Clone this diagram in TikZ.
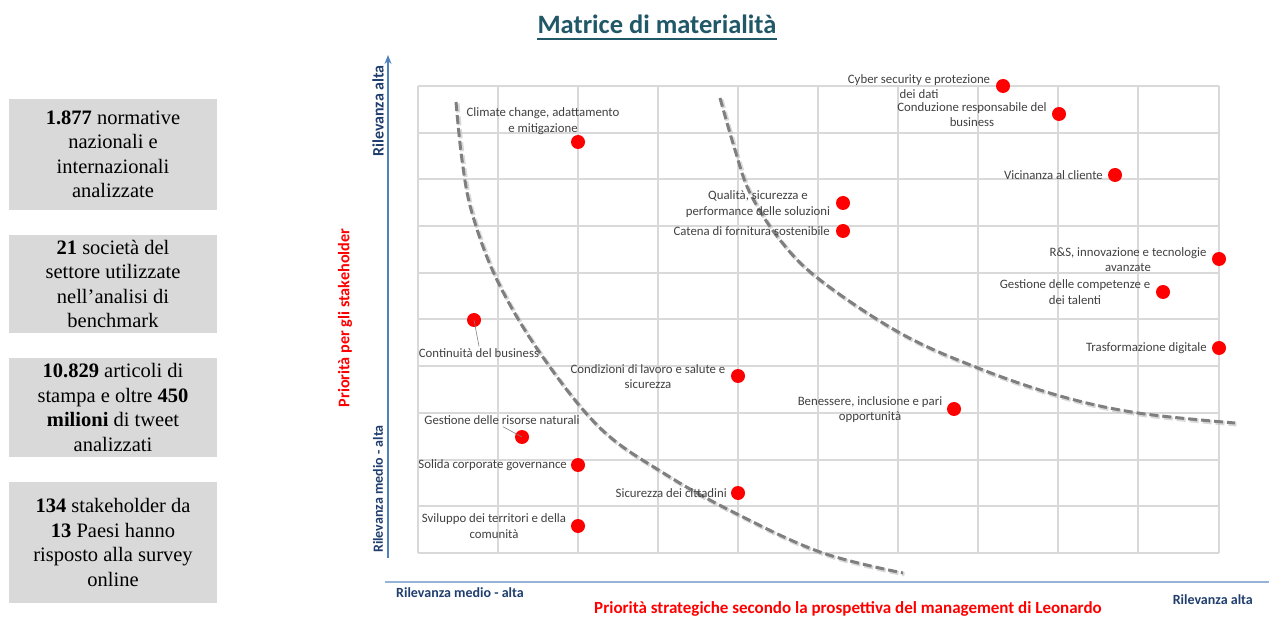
\documentclass[tikz,border=0pt]{standalone}
\usepackage{fontspec}
\setmainfont{Carlito}
\newfontfamily\tnr{Liberation Serif}
\usetikzlibrary{arrows.meta}
\definecolor{gridc}{HTML}{D9D9D9}
\definecolor{boxc}{HTML}{D9D9D9}
\definecolor{labc}{HTML}{404040}
\definecolor{titlec}{HTML}{215868}
\definecolor{axisc}{HTML}{4F81BD}
\definecolor{axisx}{HTML}{95B3D7}
\definecolor{bluelab}{HTML}{1F3E6E}
\definecolor{curvec}{HTML}{7F7F7F}
\tikzset{
  gridline/.style={gridc, line width=1.2pt},
  lab/.style={font=\fontsize{12.8}{15.5}\selectfont, text=labc, align=center, inner sep=0pt},
  dot/.style={circle, fill=red, minimum size=14pt, inner sep=0pt},
  statbox/.style={fill=boxc, minimum width=208pt, align=center,
    font=\tnr\fontsize{20.5}{24.5}\selectfont, inner sep=0pt},
  axlab/.style={font=\fontsize{14}{16}\selectfont\bfseries, text=bluelab, inner sep=0pt},
  redlab/.style={font=\fontsize{16.5}{18}\selectfont\bfseries, text=red, inner sep=0pt},
  leader/.style={gray, line width=0.6pt},
  curve/.style={curvec, line width=3pt, dash pattern=on 9pt off 4pt},
  curveshadow/.style={black!25, line width=4pt, dash pattern=on 9pt off 4pt, opacity=0.6}
}
\begin{document}
\begin{tikzpicture}[x=1pt,y=-1pt]
\useasboundingbox (0,0) rectangle (1269,617);

% title
\node[font=\fontsize{26.5}{30}\selectfont\bfseries, text=titlec, inner sep=0pt, anchor=base] (title) at (657,34) {Matrice di materialità};
\draw[titlec, line width=2.6pt] ([yshift=-5pt]title.base west) -- ([yshift=-5pt]title.base east);

% left boxes
\node[statbox, minimum height=111pt] (b1) at (113,154.5) {\textbf{1.877} normative\\nazionali e\\internazionali\\analizzate};
\node[statbox, minimum height=98pt] (b2) at (113,284) {\textbf{21} società del\\settore utilizzate\\nell’analisi di\\benchmark};
\node[statbox, minimum height=99pt] (b3) at (113,407.5) {\textbf{10.829} articoli di\\stampa e oltre \textbf{450}\\\textbf{milioni} di tweet\\analizzati};
\node[statbox, minimum height=121pt] (b4) at (113,542.5) {\textbf{134} stakeholder da\\\textbf{13} Paesi hanno\\risposto alla survey\\online};

% grid
\foreach \x in {418,498,578,658,738,818,898,978,1058,1138,1219} \draw[gridline] (\x,86) -- (\x,553);
\foreach \y in {86,133,179,226,273,319,366,413,460,506,553} \draw[gridline] (418,\y) -- (1219,\y);

% axes
\coordinate (ybot) at (388,558);
\coordinate (ytop) at (388,55);
\draw[axisc, line width=1.3pt, -{Stealth[length=9pt,width=7pt]}] (ybot) -- (ytop);
\coordinate (xl) at (385,582);
\coordinate (xr) at (1269,582);
\draw[axisx, line width=1.5pt] (xl) -- (xr);

% axis labels
\node[axlab, rotate=90, font=\fontsize{16}{18}\selectfont\bfseries] (yhi) at (378,111) {Rilevanza alta};
\node[axlab, rotate=90] (ylo) at (378,489) {Rilevanza medio - alta};
\node[redlab, rotate=90, font=\fontsize{16.2}{18}\selectfont\bfseries] (ytit) at (345,318) {Priorità per gli stakeholder};
\node[axlab, anchor=west] (xlo) at (396,593) {Rilevanza medio - alta};
\node[axlab, anchor=east] (xhi) at (1253,600) {Rilevanza alta};
\node[redlab, font=\fontsize{17}{19}\selectfont\bfseries] (xtit) at (848,609) {Priorità strategiche secondo la prospettiva del management di Leonardo};

% curves
\draw[curveshadow, xshift=1.5pt, yshift=-1.5pt] plot[smooth, tension=0.6] coordinates {(456,102) (462,160) (472,213) (497,280) (540,353) (600,428) (665,474) (733,512) (820,552) (903,573)};
\draw[curve] plot[smooth, tension=0.6] coordinates {(456,102) (462,160) (472,213) (497,280) (540,353) (600,428) (665,474) (733,512) (820,552) (903,573)};
\draw[curveshadow, xshift=1.5pt, yshift=-1.5pt] plot[smooth, tension=0.6] coordinates {(720,98) (735,150) (750,193) (780,240) (820,280) (900,333) (978,368) (1060,396) (1138,413) (1235,423)};
\draw[curve] plot[smooth, tension=0.6] coordinates {(720,98) (735,150) (750,193) (780,240) (820,280) (900,333) (978,368) (1060,396) (1138,413) (1235,423)};

% dots
\node[dot] (d1) at (1003,86) {};
\node[dot] (d2) at (1059,114) {};
\node[dot] (d3) at (1115,175) {};
\node[dot] (d4) at (843,203) {};
\node[dot] (d5) at (843,231) {};
\node[dot] (d6) at (1219,259) {};
\node[dot] (d7) at (1163,292) {};
\node[dot] (d8) at (1219,348) {};
\node[dot] (d9) at (578,142) {};
\node[dot] (d10) at (474,320) {};
\node[dot] (d11) at (738,376) {};
\node[dot] (d12) at (954,409) {};
\node[dot] (d13) at (522,437) {};
\node[dot] (d14) at (578,465) {};
\node[dot] (d15) at (738,493) {};
\node[dot] (d16) at (578,526) {};

% labels
\node[lab] (l1) at (919,86.5) {Cyber security e protezione\\dei dati};
\node[lab] (l2) at (972,114.5) {Conduzione responsabile del\\business};
\node[lab, anchor=east] (l3) at (1103,175) {Vicinanza al cliente};
\node[lab] (l4) at (758,204) {Qualità, sicurezza e\\performance delle soluzioni};
\node[lab, anchor=east] (l5) at (830,231) {Catena di fornitura sostenibile};
\node[lab] (l6) at (1128,259.5) {R\&S, innovazione e tecnologie\\avanzate};
\node[lab] (l7) at (1075,292) {Gestione delle competenze e\\dei talenti};
\node[lab, anchor=east] (l8) at (1207,348) {Trasformazione digitale};
\node[lab] (l9) at (543,121) {Climate change, adattamento\\e mitigazione};
\node[lab] (l10) at (479,353) {Continuità del business};
\node[lab] (l11) at (648,376.5) {Condizioni di lavoro e salute e\\sicurezza};
\node[lab] (l12) at (870,409.5) {Benessere, inclusione e pari\\opportunità};
\node[lab] (l13) at (502,420) {Gestione delle risorse naturali};
\node[lab, anchor=east] (l14) at (567,465) {Solida corporate governance};
\node[lab, anchor=east] (l15) at (727,493) {Sicurezza dei cittadini};
\node[lab] (l16) at (494,526) {Sviluppo dei territori e della\\comunità};

% leader lines
\draw[leader] (d10.center) -- ([yshift=2pt]l10.north);
\draw[leader] ([xshift=1pt,yshift=-2pt]l13.south) -- (d13.center);
\end{tikzpicture}
\end{document}
